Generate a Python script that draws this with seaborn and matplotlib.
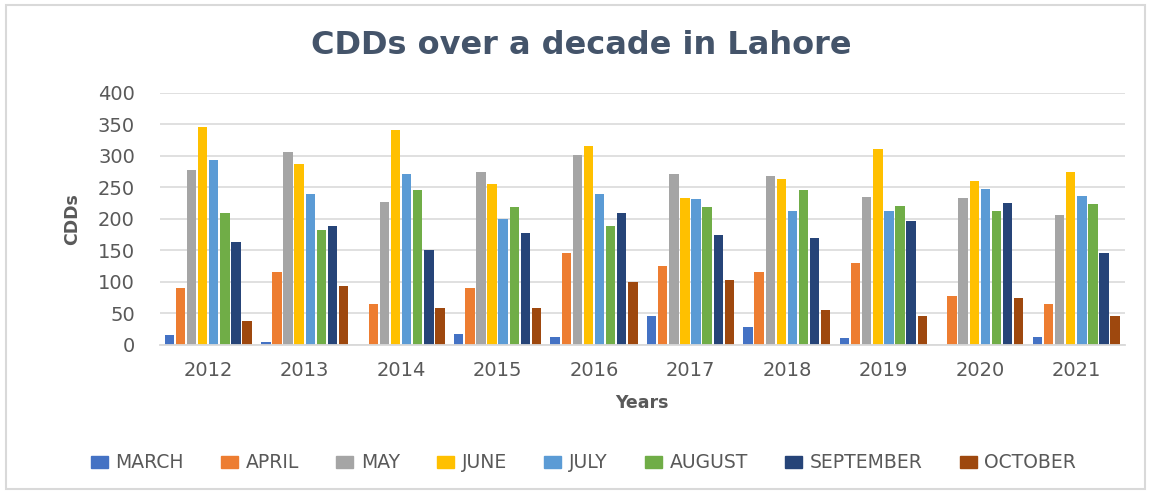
import pandas as pd
import numpy as np
import matplotlib.pyplot as plt
from matplotlib.patches import Rectangle
import seaborn as sns

years = ['2012', '2013', '2014', '2015', '2016', '2017', '2018', '2019', '2020', '2021']
months = ['MARCH', 'APRIL', 'MAY', 'JUNE', 'JULY', 'AUGUST', 'SEPTEMBER', 'OCTOBER']

march = [15, 5, 0, 17, 13, 45, 29, 11, 0, 13]
april = [90, 115, 65, 90, 145, 125, 115, 130, 78, 65]
may = [278, 306, 226, 275, 301, 271, 268, 235, 233, 206]
june = [346, 287, 341, 256, 316, 233, 264, 311, 260, 274]
july = [293, 240, 271, 200, 240, 231, 212, 212, 247, 236]
august = [210, 182, 246, 219, 188, 219, 245, 221, 212, 224]
september = [163, 188, 150, 178, 210, 174, 169, 196, 225, 146]
october = [38, 94, 58, 59, 100, 103, 56, 45, 75, 46]

colors = ['#4472C4', '#ED7D31', '#A5A5A5', '#FFC000', '#5B9BD5', '#70AD47', '#264478', '#9E480E']

vals = [march, april, may, june, july, august, september, october]
df = pd.DataFrame({
    'Years': np.repeat(years, len(months)),
    'Month': months * len(years),
    'CDDs': [vals[m][y] for y in range(len(years)) for m in range(len(months))],
})

plt.rcParams['font.family'] = ['DejaVu Sans']
txtcol = '#595959'

fig = plt.figure(figsize=(11.51, 4.94), dpi=100)
ax = fig.add_axes([0.139, 0.302, 0.838, 0.51])

sns.barplot(data=df, x='Years', y='CDDs', hue='Month', hue_order=months,
            palette=colors, width=0.92, gap=0.15, ax=ax, legend=False,
            saturation=1, edgecolor='none')

ax.set_ylim(0, 400)
ax.set_yticks(range(0, 401, 50))
ax.set_xlim(-0.5, len(years) - 0.5)
ax.yaxis.grid(True, color='#DDDDDD', linewidth=1.3)
ax.set_axisbelow(True)
for s in ['top', 'right', 'left']:
    ax.spines[s].set_visible(False)
ax.spines['bottom'].set_color('#D9D9D9')
ax.spines['bottom'].set_linewidth(1.3)
ax.tick_params(axis='both', length=0, labelsize=14, colors=txtcol, pad=12)
ax.tick_params(axis='y', pad=18)

ax.set_xlabel('Years', fontsize=12.5, fontweight='bold', color=txtcol, labelpad=10)
ax.set_ylabel('CDDs', fontsize=12.5, fontweight='bold', color=txtcol, labelpad=12)

fig.suptitle('CDDs over a decade in Lahore', x=0.505, y=0.94, fontsize=23,
             fontweight='bold', color='#44546A')

handles = [Rectangle((0, 0), 1, 1, color=c) for c in colors]
fig.legend(handles, months, loc='center', bbox_to_anchor=(0.507, 0.063), ncol=8,
           frameon=False, fontsize=13.5, handlelength=0.9, handleheight=0.6,
           handletextpad=0.4, columnspacing=2.0, labelcolor=txtcol)

fig.add_artist(Rectangle((0.005, 0.01), 0.99, 0.98, transform=fig.transFigure,
                         fill=False, edgecolor='#D9D9D9', linewidth=1.5))

fig.savefig('out.png', dpi=100)
